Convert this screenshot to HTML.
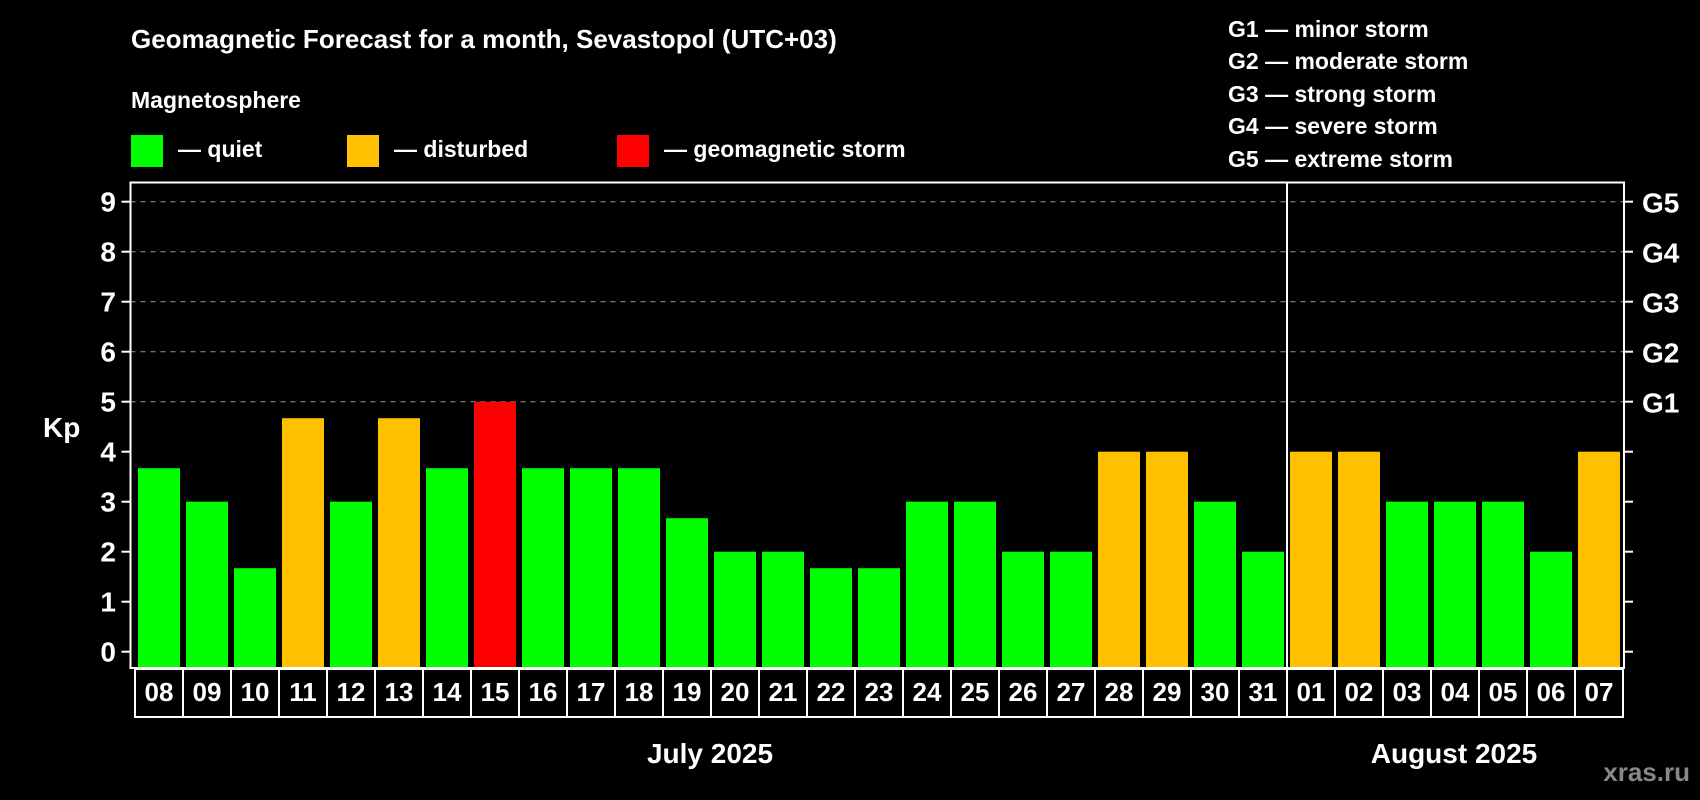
<!DOCTYPE html>
<html><head><meta charset="utf-8"><style>
html,body{margin:0;padding:0;background:#000;}
svg{display:block;font-family:"Liberation Sans",Arial,sans-serif;font-weight:bold;}
</style></head><body>
<svg id="chart" width="1700" height="800" viewBox="0 0 1700 800">
<rect x="0" y="0" width="1700" height="800" fill="#000"/>
<text x="131" y="48" font-size="26" fill="#fff">Geomagnetic Forecast for a month, Sevastopol (UTC+03)</text>
<text x="131" y="108" font-size="23" fill="#fff">Magnetosphere</text>
<g><rect x="131" y="135" width="32" height="32" fill="#00ff00"/><text x="178" y="157" font-size="23" fill="#fff">— quiet</text></g>
<g><rect x="347" y="135" width="32" height="32" fill="#ffc000"/><text x="394" y="157" font-size="23" fill="#fff">— disturbed</text></g>
<g><rect x="617" y="135" width="32" height="32" fill="#ff0000"/><text x="664" y="157" font-size="23" fill="#fff">— geomagnetic storm</text></g>
<g font-size="23" fill="#fff">
<text x="1228" y="37">G1 — minor storm</text>
<text x="1228" y="69">G2 — moderate storm</text>
<text x="1228" y="102">G3 — strong storm</text>
<text x="1228" y="134">G4 — severe storm</text>
<text x="1228" y="167">G5 — extreme storm</text>
</g>
<text x="43" y="437" font-size="28" fill="#fff">Kp</text>
<g id="grid"></g>
<g id="bars"></g>
<g id="axes"></g>
<text x="710" y="763" font-size="28" fill="#fff" text-anchor="middle">July 2025</text>
<text x="1454" y="763" font-size="28" fill="#fff" text-anchor="middle">August 2025</text>
<text x="1690" y="781" font-size="26" fill="#888" text-anchor="end">xras.ru</text>
</svg>
<script>
const days = ["08","09","10","11","12","13","14","15","16","17","18","19","20","21","22","23","24","25","26","27","28","29","30","31","01","02","03","04","05","06","07"];
const kp = [3.67,3,1.67,4.67,3,4.67,3.67,5,3.67,3.67,3.67,2.67,2,2,1.67,1.67,3,3,2,2,4,4,3,2,4,4,3,3,3,2,4];
const yTicks = [0,1,2,3,4,5,6,7,8,9];
const gLabels = ["","","","","","G1","G2","G3","G4","G5"];
const NS="http://www.w3.org/2000/svg";
const L=130.5,R=1624,T=182.5,B=668;
function y(v){return 651.7-50*v;}
function xc(i){return 159+48*i;}
function mk(tag,attrs,parent,text){const e=document.createElementNS(NS,tag);for(const k in attrs)e.setAttribute(k,attrs[k]);if(text!==undefined)e.textContent=text;parent.appendChild(e);return e;}
const grid=document.getElementById('grid'),bars=document.getElementById('bars'),axes=document.getElementById('axes');
yTicks.forEach(v=>{
  if(v>=5){const g=mk('line',{x1:L,x2:R,y1:y(v),y2:y(v),stroke:'#999','stroke-width':1,'stroke-dasharray':'5,5'},grid);
    
    }
  const t=mk('line',{x1:L-9,x2:L,y1:y(v),y2:y(v),stroke:'#fff','stroke-width':2},axes);
  
  
  const tl=mk('text',{x:116,y:y(v)+10,'font-size':28,fill:'#fff','text-anchor':'end'},axes,String(v));
  
  
  const rt=mk('line',{x1:R,x2:R+9,y1:y(v),y2:y(v),stroke:'#fff','stroke-width':2},axes);
  
  
  if(gLabels[v]){const gl=mk('text',{x:1642,y:y(v)+11,'font-size':28,fill:'#fff'},axes,gLabels[v]);
    
    }
});
kp.forEach((v,i)=>{
  const c=v>=5?'#ff0000':(v>=4?'#ffc000':'#00ff00');
  const b=mk('rect',{x:xc(i)-21,y:y(v),width:42,height:B-y(v),fill:c},bars);
  
  
  const bx=mk('rect',{x:xc(i)-24,y:B+1,width:48,height:48,fill:'none',stroke:'#fff','stroke-width':2},axes);
  
  
  const dl=mk('text',{x:xc(i),y:701,'font-size':26,fill:'#fff','text-anchor':'middle'},axes,days[i]);
  
  
});
const fr=mk('rect',{x:L,y:T,width:R-L,height:B-T,fill:'none',stroke:'#fff','stroke-width':2},axes);


const di=days.indexOf("01");
const dv=mk('line',{x1:xc(di)-24,x2:xc(di)-24,y1:T,y2:B,stroke:'#fff','stroke-width':2},axes);


</script>
</body></html>
